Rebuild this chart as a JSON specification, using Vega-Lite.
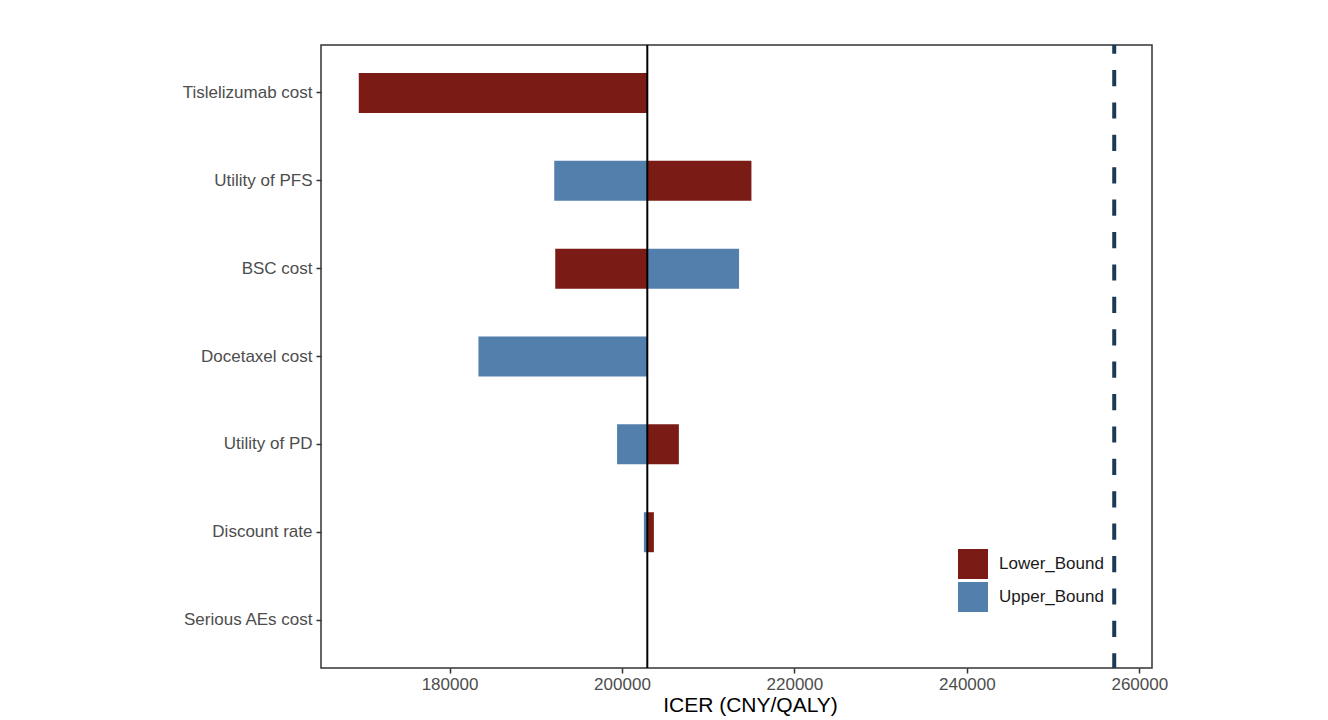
{
  "$schema": "https://vega.github.io/schema/vega-lite/v6.json",
  "autosize": "none",
  "width": 831,
  "height": 623,
  "padding": {"left": 321, "top": 45, "right": 176, "bottom": 52},
  "background": "white",
  "config": {
    "font": "Liberation Sans",
    "view": {"stroke": "#333333", "strokeWidth": 1.5},
    "axis": {
      "domain": false,
      "grid": false,
      "tickColor": "#333333",
      "tickWidth": 1.5,
      "tickSize": 5,
      "labelFont": "Liberation Sans",
      "labelFontSize": 17,
      "labelColor": "#4d4d4d",
      "titleFont": "Liberation Sans",
      "titleFontWeight": "normal",
      "titleColor": "#000000"
    }
  },
  "datasets": {
    "bars": [
      {"parameter": "Tislelizumab cost", "bound": "Lower_Bound", "icer": 169474, "base": 202938},
      {"parameter": "Tislelizumab cost", "bound": "Upper_Bound", "icer": 202938, "base": 202938},
      {"parameter": "Utility of PFS", "bound": "Lower_Bound", "icer": 215015, "base": 202938},
      {"parameter": "Utility of PFS", "bound": "Upper_Bound", "icer": 192146, "base": 202938},
      {"parameter": "BSC cost", "bound": "Lower_Bound", "icer": 192262, "base": 202938},
      {"parameter": "BSC cost", "bound": "Upper_Bound", "icer": 213581, "base": 202938},
      {"parameter": "Docetaxel cost", "bound": "Lower_Bound", "icer": 202938, "base": 202938},
      {"parameter": "Docetaxel cost", "bound": "Upper_Bound", "icer": 183354, "base": 202938},
      {"parameter": "Utility of PD", "bound": "Lower_Bound", "icer": 206600, "base": 202938},
      {"parameter": "Utility of PD", "bound": "Upper_Bound", "icer": 199433, "base": 202938},
      {"parameter": "Discount rate", "bound": "Lower_Bound", "icer": 203701, "base": 202938},
      {"parameter": "Discount rate", "bound": "Upper_Bound", "icer": 202545, "base": 202938},
      {"parameter": "Serious AEs cost", "bound": "Lower_Bound", "icer": 202950, "base": 202938},
      {"parameter": "Serious AEs cost", "bound": "Upper_Bound", "icer": 202930, "base": 202938}
    ],
    "refs": [
      {"name": "base case", "icer": 202938},
      {"name": "WTP threshold", "icer": 257094}
    ]
  },
  "layer": [
    {
      "data": {"name": "bars"},
      "mark": {"type": "bar"},
      "encoding": {
        "y": {
          "field": "parameter",
          "type": "nominal",
          "sort": ["Tislelizumab cost", "Utility of PFS", "BSC cost", "Docetaxel cost", "Utility of PD", "Discount rate", "Serious AEs cost"],
          "scale": {"paddingInner": 0.545, "paddingOuter": 0.318},
          "axis": {"title": null, "labelPadding": 4}
        },
        "x": {
          "field": "icer",
          "type": "quantitative",
          "stack": null,
          "scale": {"domain": [165093, 261475], "nice": false, "zero": false},
          "axis": {
            "values": [180000, 200000, 220000, 240000, 260000],
            "format": "d",
            "labelPadding": 3,
            "title": "ICER (CNY/QALY)",
            "titleFontSize": 21,
            "titlePadding": 2,
            "titleX": 429
          }
        },
        "x2": {"field": "base"},
        "color": {
          "field": "bound",
          "type": "nominal",
          "scale": {"domain": ["Lower_Bound", "Upper_Bound"], "range": ["#7b1b16", "#537fad"]},
          "legend": {
            "title": null,
            "orient": "none",
            "legendX": 637,
            "legendY": 504,
            "padding": 0,
            "symbolType": "square",
            "symbolSize": 900,
            "symbolStrokeWidth": 0,
            "symbolOpacity": 1,
            "rowPadding": 3,
            "labelOffset": 11,
            "labelFont": "Liberation Sans",
            "labelFontSize": 17,
            "labelColor": "#1a1a1a"
          }
        }
      }
    },
    {
      "data": {"name": "refs"},
      "transform": [{"filter": "datum.name === 'base case'"}],
      "mark": {"type": "rule", "color": "#000000", "strokeWidth": 2},
      "encoding": {"x": {"field": "icer", "type": "quantitative"}}
    },
    {
      "data": {"name": "refs"},
      "transform": [{"filter": "datum.name === 'WTP threshold'"}],
      "mark": {"type": "rule", "color": "#1b3a57", "strokeWidth": 4, "strokeDash": [16.2, 16.2], "strokeDashOffset": 7.4},
      "encoding": {"x": {"field": "icer", "type": "quantitative"}}
    }
  ]
}
